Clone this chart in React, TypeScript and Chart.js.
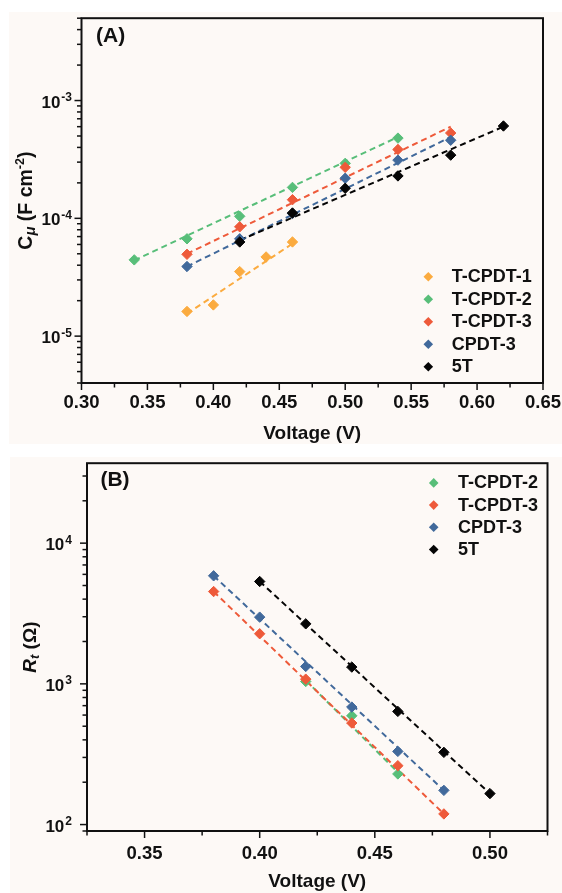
import React, { useEffect, useRef } from 'react';
import { Chart, registerables } from 'chart.js';

Chart.register(...registerables);

const FONT = '"Liberation Sans", Arial, Helvetica, sans-serif';
const INK = '#111111';
const CREAM = '#fdf9f6';

const ORANGE = '#fbab3f';
const GREEN = '#58be79';
const RED = '#ee5a3a';
const BLUE = '#41699b';
const BLACK = '#050505';

// ---------- Panel A : C_mu vs Voltage ----------
const voltA_T1 = [0.38, 0.40, 0.42, 0.44, 0.46];
const capA_T1 = [1.62e-5, 1.84e-5, 3.53e-5, 4.7e-5, 6.3e-5];
const voltA_T2 = [0.34, 0.38, 0.42, 0.46, 0.50, 0.54];
const capA_T2 = [4.44e-5, 6.7e-5, 1.04e-4, 1.83e-4, 2.93e-4, 4.8e-4];
const voltA_T3 = [0.38, 0.42, 0.46, 0.50, 0.54, 0.58];
const capA_T3 = [4.95e-5, 8.47e-5, 1.44e-4, 2.71e-4, 3.84e-4, 5.3e-4];
const voltA_C3 = [0.38, 0.42, 0.46, 0.50, 0.54, 0.58];
const capA_C3 = [3.9e-5, 6.7e-5, 1.1e-4, 2.19e-4, 3.12e-4, 4.6e-4];
const voltA_5T = [0.42, 0.46, 0.50, 0.54, 0.58, 0.62];
const capA_5T = [6.3e-5, 1.11e-4, 1.8e-4, 2.29e-4, 3.44e-4, 6.08e-4];

// dashed fit lines (end points)
const fitVoltA_T1 = [0.38, 0.46];
const fitCapA_T1 = [1.55e-5, 6.1e-5];
const fitVoltA_T2 = [0.34, 0.54];
const fitCapA_T2 = [4.4e-5, 4.9e-4];
const fitVoltA_T3 = [0.38, 0.58];
const fitCapA_T3 = [5.0e-5, 6.0e-4];
const fitVoltA_C3 = [0.38, 0.58];
const fitCapA_C3 = [3.9e-5, 4.9e-4];
const fitVoltA_5T = [0.42, 0.62];
const fitCapA_5T = [6.5e-5, 6.0e-4];

const xMajorA = [0.30, 0.35, 0.40, 0.45, 0.50, 0.55, 0.60, 0.65];
const xLabelsA = ['0.30', '0.35', '0.40', '0.45', '0.50', '0.55', '0.60', '0.65'];
const xMinorA = [0.325, 0.375, 0.425, 0.475, 0.525, 0.575, 0.625];
const yDecadesA = [-5, -4, -3];

// ---------- Panel B : R_t vs Voltage ----------
const voltB_T2 = [0.42, 0.44, 0.46];
const resB_T2 = [1040, 593, 229];
const voltB_T3 = [0.38, 0.40, 0.42, 0.44, 0.46, 0.48];
const resB_T3 = [4530, 2270, 1080, 527, 262, 119];
const voltB_C3 = [0.38, 0.40, 0.42, 0.44, 0.46, 0.48];
const resB_C3 = [5860, 2980, 1330, 684, 331, 175];
const voltB_5T = [0.40, 0.42, 0.44, 0.46, 0.48, 0.50];
const resB_5T = [5340, 2670, 1316, 637, 326, 166];

const fitVoltB_T2 = [0.42, 0.46];
const fitResB_T2 = [1060, 235];
const fitVoltB_T3 = [0.38, 0.48];
const fitResB_T3 = [4530, 119];
const fitVoltB_C3 = [0.38, 0.48];
const fitResB_C3 = [5860, 175];
const fitVoltB_5T = [0.40, 0.50];
const fitResB_5T = [5340, 166];

const xMajorB = [0.35, 0.40, 0.45, 0.50];
const xLabelsB = ['0.35', '0.40', '0.45', '0.50'];
const xMinorB = [0.325, 0.375, 0.425, 0.475, 0.525];
const yDecadesB = [2, 3, 4];

type Series = { label: string; color: string; xs: number[]; ys: number[]; fx: number[]; fy: number[] };
type Seg = { text: string; size: number; italic?: boolean; dy?: number };

const seriesA: Series[] = [
  { label: 'T-CPDT-1', color: ORANGE, xs: voltA_T1, ys: capA_T1, fx: fitVoltA_T1, fy: fitCapA_T1 },
  { label: 'T-CPDT-2', color: GREEN, xs: voltA_T2, ys: capA_T2, fx: fitVoltA_T2, fy: fitCapA_T2 },
  { label: 'T-CPDT-3', color: RED, xs: voltA_T3, ys: capA_T3, fx: fitVoltA_T3, fy: fitCapA_T3 },
  { label: 'CPDT-3', color: BLUE, xs: voltA_C3, ys: capA_C3, fx: fitVoltA_C3, fy: fitCapA_C3 },
  { label: '5T', color: BLACK, xs: voltA_5T, ys: capA_5T, fx: fitVoltA_5T, fy: fitCapA_5T },
];

const seriesB: Series[] = [
  { label: 'T-CPDT-2', color: GREEN, xs: voltB_T2, ys: resB_T2, fx: fitVoltB_T2, fy: fitResB_T2 },
  { label: 'T-CPDT-3', color: RED, xs: voltB_T3, ys: resB_T3, fx: fitVoltB_T3, fy: fitResB_T3 },
  { label: 'CPDT-3', color: BLUE, xs: voltB_C3, ys: resB_C3, fx: fitVoltB_C3, fy: fitResB_C3 },
  { label: '5T', color: BLACK, xs: voltB_5T, ys: resB_5T, fx: fitVoltB_5T, fy: fitResB_5T },
];

const yTitleA: Seg[] = [
  { text: 'C', size: 19.5 },
  { text: 'μ', size: 15, italic: true, dy: 3.5 },
  { text: ' (F cm', size: 19.5 },
  { text: '-2', size: 12.5, dy: -8 },
  { text: ')', size: 19.5 },
];
const yTitleB: Seg[] = [
  { text: 'R', size: 19, italic: true },
  { text: 't', size: 13, italic: true, dy: 3.5 },
  { text: ' (Ω)', size: 19 },
];

type Spec = {
  left: number; top: number; w: number; h: number;
  padTop: number; padRight: number; yAxisW: number; xAxisH: number;
  xMin: number; xMax: number; yMin: number; yMax: number;
  xMajor: number[]; xLabels: string[]; xMinor: number[]; yDecades: number[];
  xLabelPad: number; xTitlePad: number;
  series: Series[]; panel: string; panelDx: number; panelDy: number;
  yLabelGap: number; yTitle: Seg[]; yTitleX: number;
  legMarkerOff: number; legTextOff: number; legRow0: number; legFromTop: boolean; legStep: number;
};

const specA: Spec = {
  left: 9, top: 12, w: 553, h: 432,
  padTop: 1.5, padRight: 19, yAxisW: 72.5, xAxisH: 61,
  xMin: 0.30, xMax: 0.65, yMin: 4e-6, yMax: 5e-3,
  xMajor: xMajorA, xLabels: xLabelsA, xMinor: xMinorA, yDecades: yDecadesA,
  xLabelPad: 3, xTitlePad: 1,
  series: seriesA, panel: '(A)', panelDx: 14.5, panelDy: 18,
  yLabelGap: 9.5, yTitle: yTitleA, yTitleX: 15.5,
  legMarkerOff: 114.7, legTextOff: 91.3, legRow0: 106.3, legFromTop: false, legStep: 22.5,
};

const specB: Spec = {
  left: 10, top: 457, w: 552, h: 436,
  padTop: 5, padRight: 14.5, yAxisW: 77, xAxisH: 62,
  xMin: 0.325, xMax: 0.525, yMin: 90, yMax: 3.7e4,
  xMajor: xMajorB, xLabels: xLabelsB, xMinor: xMinorB, yDecades: yDecadesB,
  xLabelPad: 5.7, xTitlePad: 1.5,
  series: seriesB, panel: '(B)', panelDx: 13.4, panelDy: 17,
  yLabelGap: 15, yTitle: yTitleB, yTitleX: 18.5,
  legMarkerOff: 113.8, legTextOff: 89.5, legRow0: 19.7, legFromTop: true, legStep: 22.2,
};

function logTicks(min: number, max: number) {
  const out: { value: number }[] = [];
  for (let e = Math.floor(Math.log10(min)); e <= Math.ceil(Math.log10(max)); e++) {
    for (let m = 1; m <= 9; m++) {
      const v = m * Math.pow(10, e);
      if (v >= min * 0.999999 && v <= max * 1.000001) out.push({ value: v });
    }
  }
  return out;
}

function diamond(ctx: CanvasRenderingContext2D, x: number, y: number, r: number) {
  ctx.beginPath();
  ctx.moveTo(x - r, y);
  ctx.lineTo(x, y - r);
  ctx.lineTo(x + r, y);
  ctx.lineTo(x, y + r);
  ctx.closePath();
}

function makePlugin(s: Spec) {
  return {
    id: 'decor' + s.panel,
    afterDraw(chart: any) {
      const { ctx, chartArea: a, scales } = chart;
      ctx.save();
      ctx.strokeStyle = INK;
      ctx.fillStyle = INK;

      // ticks
      ctx.lineWidth = 1.5;
      const xs = scales.x;
      const isMajorX = (v: number) => s.xMajor.some((m) => Math.abs(m - v) < 1e-6);
      xs.ticks.forEach((t: any) => {
        const px = xs.getPixelForValue(t.value);
        const len = isMajorX(t.value) ? 6 : 3.5;
        ctx.beginPath();
        ctx.moveTo(px, a.bottom);
        ctx.lineTo(px, a.bottom + 1 + len);
        ctx.stroke();
      });
      const ys = scales.y;
      ys.ticks.forEach((t: any) => {
        const py = ys.getPixelForValue(t.value);
        const mant = t.value / Math.pow(10, Math.floor(Math.log10(t.value) + 1e-9));
        const len = Math.abs(mant - 1) < 1e-6 ? 6 : 3.5;
        ctx.beginPath();
        ctx.moveTo(a.left, py);
        ctx.lineTo(a.left - 1 - len, py);
        ctx.stroke();
      });

      // frame
      ctx.lineWidth = 2;
      ctx.strokeRect(a.left, a.top, a.right - a.left, a.bottom - a.top);

      // y tick labels with superscripts
      ctx.textBaseline = 'alphabetic';
      ctx.textAlign = 'left';
      s.yDecades.forEach((e) => {
        const py = ys.getPixelForValue(Math.pow(10, e));
        const baseFont = `bold 17px ${FONT}`;
        const expFont = `bold 12px ${FONT}`;
        ctx.font = baseFont;
        const wb = ctx.measureText('10').width;
        ctx.font = expFont;
        const expText = String(e);
        const we = ctx.measureText(expText).width;
        const x0 = a.left - s.yLabelGap - (wb + 1 + we);
        ctx.font = baseFont;
        ctx.fillText('10', x0, py + 7);
        ctx.font = expFont;
        ctx.fillText(expText, x0 + wb + 1, py + 0.5);
      });

      // y title (rotated, rich text)
      {
        const cy = (a.top + a.bottom) / 2;
        ctx.save();
        ctx.translate(s.yTitleX, cy);
        ctx.rotate(-Math.PI / 2);
        const fontOf = (g: Seg) => `${g.italic ? 'italic ' : ''}bold ${g.size}px ${FONT}`;
        let total = 0;
        s.yTitle.forEach((g) => {
          ctx.font = fontOf(g);
          total += ctx.measureText(g.text).width;
        });
        let x = -total / 2;
        const base = 7;
        s.yTitle.forEach((g) => {
          ctx.font = fontOf(g);
          ctx.fillText(g.text, x, base + (g.dy || 0));
          x += ctx.measureText(g.text).width;
        });
        ctx.restore();
      }

      // panel label
      ctx.font = `bold 21px ${FONT}`;
      ctx.textBaseline = 'middle';
      ctx.textAlign = 'left';
      ctx.fillText(s.panel, a.left + s.panelDx, a.top + s.panelDy);

      // legend
      ctx.font = `bold 18px ${FONT}`;
      s.series.forEach((se, i) => {
        const y = (s.legFromTop ? a.top + s.legRow0 : a.bottom - s.legRow0) + i * s.legStep;
        ctx.fillStyle = se.color;
        diamond(ctx, a.right - s.legMarkerOff, y, 4.8);
        ctx.fill();
        ctx.fillStyle = INK;
        ctx.fillText(se.label, a.right - s.legTextOff, y + 0.5);
      });

      ctx.restore();
    },
  };
}

function buildConfig(s: Spec): any {
  const n = s.series.length;
  const datasets: any[] = [];
  s.series.forEach((se, i) => {
    datasets.push({
      label: se.label,
      data: se.xs.map((x, k) => ({ x, y: se.ys[k] })),
      showLine: false,
      pointStyle: 'rectRot',
      pointRadius: 5.2,
      pointBorderWidth: 1,
      backgroundColor: se.color,
      borderColor: se.color,
      order: n - i,
    });
    datasets.push({
      label: se.label + ' fit',
      data: se.fx.map((x, k) => ({ x, y: se.fy[k] })),
      showLine: true,
      pointRadius: 0,
      borderColor: se.color,
      borderWidth: 2,
      borderDash: [6, 4],
      fill: false,
      order: 100 + n - i,
    });
  });

  const xTicks = [...s.xMajor, ...s.xMinor].sort((p, q) => p - q).map((v) => ({ value: v }));

  return {
    type: 'scatter',
    data: { datasets },
    options: {
      animation: false,
      responsive: false,
      devicePixelRatio: 1,
      events: [],
      layout: { padding: { left: 0, top: s.padTop, right: s.padRight, bottom: 0 } },
      plugins: { legend: { display: false }, tooltip: { enabled: false }, title: { display: false } },
      scales: {
        x: {
          type: 'linear',
          position: 'bottom',
          min: s.xMin,
          max: s.xMax,
          afterBuildTicks: (scale: any) => { scale.ticks = xTicks.map((t) => ({ ...t })); },
          afterFit: (scale: any) => { scale.height = s.xAxisH; scale.paddingLeft = 0; scale.paddingRight = 0; },
          grid: { display: false, drawTicks: true, tickLength: 6 },
          border: { display: false },
          ticks: {
            autoSkip: false,
            maxRotation: 0,
            minRotation: 0,
            padding: s.xLabelPad,
            color: INK,
            font: { family: FONT, size: 18.5, weight: 'bold' },
            callback: (v: number) => {
              const k = s.xMajor.findIndex((m) => Math.abs(m - v) < 1e-6);
              return k >= 0 ? s.xLabels[k] : '';
            },
          },
          title: {
            display: true,
            text: 'Voltage (V)',
            color: INK,
            font: { family: FONT, size: 19, weight: 'bold', lineHeight: 1 },
            padding: { top: 0, bottom: s.xTitlePad },
          },
        },
        y: {
          type: 'logarithmic',
          position: 'left',
          min: s.yMin,
          max: s.yMax,
          afterBuildTicks: (scale: any) => { scale.ticks = logTicks(s.yMin, s.yMax); },
          afterFit: (scale: any) => { scale.width = s.yAxisW; scale.paddingTop = 0; scale.paddingBottom = 0; },
          grid: { display: false },
          border: { display: false },
          ticks: { display: false },
        },
      },
    },
    plugins: [makePlugin(s)],
  };
}

function Panel({ spec }: { spec: Spec }) {
  const ref = useRef<HTMLCanvasElement>(null);
  useEffect(() => {
    const chart = new Chart(ref.current as HTMLCanvasElement, buildConfig(spec));
    return () => chart.destroy();
  }, [spec]);
  return (
    <div
      style={{
        position: 'absolute',
        left: spec.left,
        top: spec.top,
        width: spec.w,
        height: spec.h,
        background: CREAM,
      }}
    >
      <canvas
        ref={ref}
        width={spec.w}
        height={spec.h}
        style={{ display: 'block', width: spec.w, height: spec.h }}
      />
    </div>
  );
}

export default function App() {
  return (
    <div
      style={{
        position: 'absolute',
        left: 0,
        top: 0,
        width: 562,
        height: 893,
        background: '#ffffff',
        overflow: 'hidden',
      }}
    >
      <Panel spec={specA} />
      <Panel spec={specB} />
    </div>
  );
}
